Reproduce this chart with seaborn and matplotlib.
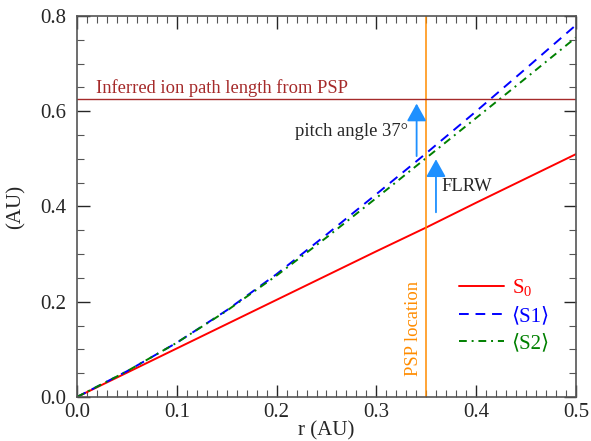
import numpy as np
import pandas as pd
import matplotlib
matplotlib.use("Agg")
import matplotlib.pyplot as plt
import seaborn as sns
from matplotlib.ticker import MultipleLocator

# values
r = [0.0, 0.05, 0.1, 0.15, 0.2, 0.25, 0.3, 0.35, 0.4, 0.45, 0.5]
s0 = [0.0, 0.051, 0.102, 0.153, 0.204, 0.255, 0.306, 0.356, 0.408, 0.459, 0.510]
s1 = [0.0, 0.054, 0.114, 0.182, 0.258, 0.341, 0.426, 0.512, 0.600, 0.690, 0.781]
s2 = [0.0, 0.054, 0.114, 0.181, 0.255, 0.335, 0.418, 0.502, 0.586, 0.670, 0.755]
series_labels = ["S$_0$", "⟨S1⟩", "⟨S2⟩"]
series_colors = ["red", "blue", "green"]

psp_r = 0.35
path_length = 0.625

sns.set_theme(style="ticks")
plt.rcParams['font.family'] = ['Liberation Serif', 'DejaVu Serif']
plt.rcParams['mathtext.fontset'] = 'custom'
plt.rcParams['mathtext.rm'] = 'Liberation Serif'
plt.rcParams['mathtext.it'] = 'Liberation Serif:italic'

df = pd.DataFrame({"r": r, "S0": s0, "S1": s1, "S2": s2})

fig = plt.figure(figsize=(5.91, 4.41), dpi=100)
ax = fig.add_axes([0.1303, 0.0998, 0.8443, 0.8639])

styles = ["-", (0, (5, 3.5)), (0, (4, 2.5, 1, 2.5))]
for col, lab, c, ls in zip(["S0", "S1", "S2"], series_labels, series_colors, styles):
    sns.lineplot(data=df, x="r", y=col, ax=ax, color=c, linestyle=ls,
                 linewidth=1.4, label=lab)

# reference lines
ax.axvline(psp_r, color="darkorange", lw=1.1)
ax.axhline(path_length, color="brown", lw=1.0)
ax.text(0.019, path_length + 0.005, "Inferred ion path length from PSP",
        color="brown", fontsize=13.3, va="bottom")
ax.text(psp_r - 0.004, 0.045, "PSP location", color="darkorange", fontsize=13.4,
        rotation=90, ha="right", va="bottom")

# arrows
arrow = dict(arrowstyle="-|>,head_length=0.9,head_width=0.5", color="dodgerblue", lw=1.3)
ax.annotate("", xy=(0.3403, 0.622), xytext=(0.3403, 0.50), arrowprops=arrow)
ax.annotate("", xy=(0.3597, 0.505), xytext=(0.3597, 0.382), arrowprops=arrow)
ax.text(0.2184, 0.5585, "pitch angle 37°", fontsize=13.4, va="center")
ax.text(0.3647, 0.443, "FLRW", fontsize=13.4, va="center")

ax.set_xlim(0, 0.5)
ax.set_ylim(0, 0.8)
ax.xaxis.set_major_locator(MultipleLocator(0.1))
ax.xaxis.set_minor_locator(MultipleLocator(0.01))
ax.yaxis.set_major_locator(MultipleLocator(0.2))
ax.yaxis.set_minor_locator(MultipleLocator(0.05))
ax.tick_params(which="both", direction="in", top=True, right=True, labelsize=15)
ax.tick_params(which="major", length=9, width=1)
ax.tick_params(which="minor", length=5, width=0.8, color="#555555")
ax.tick_params(axis="y", which="major", pad=8)
ax.tick_params(axis="x", which="major", pad=4)
for sp in ax.spines.values():
    sp.set_color("#555555")
    sp.set_linewidth(1.2)
ax.set_xlabel("r (AU)", fontsize=15, labelpad=0)
ax.set_ylabel("(AU)", fontsize=15, labelpad=10)

leg = ax.legend(loc="lower right", bbox_to_anchor=(0.985, 0.065), frameon=False,
                fontsize=15, labelcolor="linecolor", handlelength=2.2,
                handletextpad=0.35, labelspacing=0.38)

fig.savefig("out.png", dpi=100)
